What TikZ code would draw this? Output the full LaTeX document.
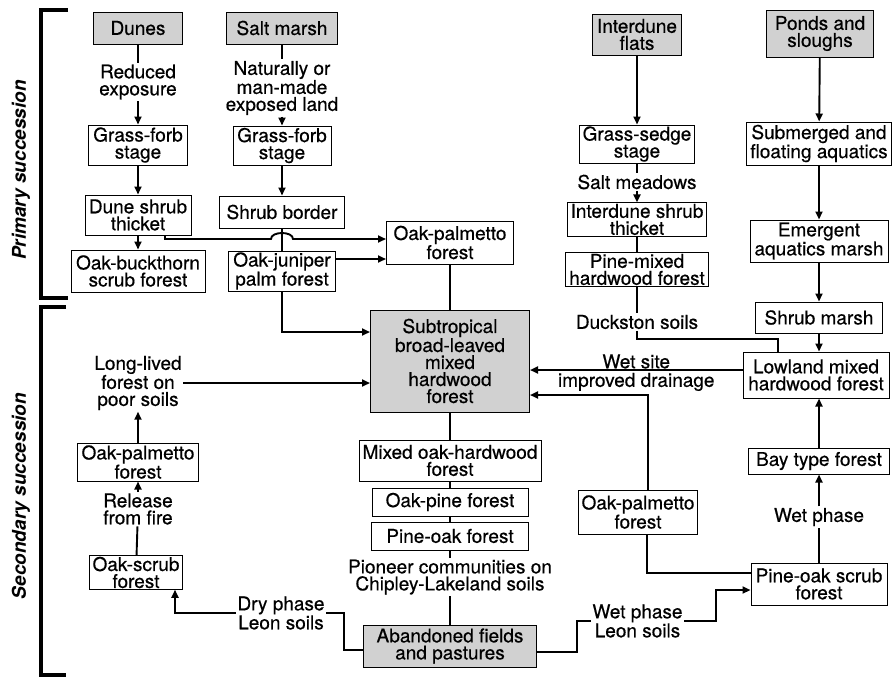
\documentclass[tikz,border=0pt]{standalone}
\usepackage{fontspec}
\setmainfont{TeX Gyre Heros}[UprightFeatures={FakeBold=0.5}]
\usetikzlibrary{arrows.meta,positioning}

\begin{document}
\begin{tikzpicture}[x=1pt, y=-1pt,
	every node/.style={font=\fontsize{19}{17}\selectfont, align=center},
	stage/.style={draw, line width=1pt, inner xsep=3.5pt, inner ysep=1pt},
	site/.style={stage, fill=black!18},
	note/.style={inner sep=1.5pt},
	link/.style={line width=1.9pt},
	arr/.style={link, -{Triangle[length=8pt,width=7pt]}},
	bracket/.style={line width=3.5pt}]
	\useasboundingbox (0,0) rectangle (893,678);

	% brackets
	\draw[bracket] (68,10) -- (41,10) -- (41,298) -- (68,298);
	\draw[bracket] (66,307) -- (41,307) -- (41,675) -- (66,675);
	\node[rotate=90, font=\fontsize{19}{17}\selectfont\bfseries\itshape] (primlab) at (21,170) {Primary succession};
	\node[rotate=90, font=\fontsize{19}{17}\selectfont\bfseries\itshape] (seclab) at (21,496) {Secondary succession};

	% primary, left
	\node[site, minimum width=89pt, minimum height=32pt] (dunes) at (138,28) {Dunes};
	\node[site, minimum width=111pt, minimum height=32pt] (saltmarsh) at (282,28) {Salt marsh};
	\node[note] (reduced) at (138,82) {Reduced\\exposure};
	\node[note] (naturally) at (282,88) {Naturally or\\man-made\\exposed land};
	\node[stage, minimum width=99pt, minimum height=40pt] (grassforbA) at (138,145) {Grass-forb\\stage};
	\node[stage, minimum width=98pt, minimum height=39pt] (grassforbB) at (282,145.5) {Grass-forb\\stage};
	\node[stage, minimum width=106pt, minimum height=40pt] (duneshrub) at (138,215) {Dune shrub\\thicket};
	\node[stage, minimum width=125pt, minimum height=32pt] (shrubborder) at (282,212) {Shrub border};
	\node[stage, minimum width=134pt, minimum height=42pt] (oakbuck) at (138,271) {Oak-buckthorn\\scrub forest};
	\node[stage, minimum width=107pt, minimum height=40pt] (oakjuniper) at (282,271) {Oak-juniper\\palm forest};
	\node[stage, minimum width=127pt, minimum height=43pt] (oakpalmA) at (450,242.5) {Oak-palmetto\\forest};
	\coordinate (hop) at (282,239);

	% primary, right
	\node[site, minimum width=89pt, minimum height=41pt] (interdune) at (637,34.5) {Interdune\\flats};
	\node[site, minimum width=107pt, minimum height=47pt] (ponds) at (820,33.5) {Ponds and\\sloughs};
	\node[stage, minimum width=114pt, minimum height=38pt] (grasssedge) at (637,144) {Grass-sedge\\stage};
	\node[note] (saltmeadows) at (637,182) {Salt meadows};
	\node[stage, minimum width=138pt] (idshrub) at (637,219.5) {Interdune shrub\\thicket};
	\node[stage, minimum width=143pt] (pinemixed) at (637,269.5) {Pine-mixed\\hardwood forest};
	\node[note] (duckston) at (637,322) {Duckston soils};
	\node[stage, minimum width=143pt, minimum height=43pt] (submerged) at (819,143.5) {Submerged and\\floating aquatics};
	\node[stage, minimum width=138pt, minimum height=42pt] (emergent) at (819,241) {Emergent\\aquatics marsh};
	\node[stage, minimum width=127pt, minimum height=31pt] (shrubmarsh) at (819,317.5) {Shrub marsh};
	\node[stage, inner xsep=1pt, minimum width=146pt, minimum height=46pt] (lowland) at (816,375) {Lowland mixed\\hardwood forest};

	% centre
	\node[site, minimum width=159pt, minimum height=102pt] (subtrop) at (450,361) {Subtropical\\broad-leaved\\mixed\\hardwood\\forest};
	\node[stage, minimum width=182pt, minimum height=41pt] (mixedoak) at (450,460.5) {Mixed oak-hardwood\\forest};
	\node[stage, minimum width=156pt, minimum height=28pt] (oakpine) at (450,502) {Oak-pine forest};
	\node[stage, minimum width=157pt, minimum height=28pt] (pineoak) at (450,536) {Pine-oak forest};
	\node[note] (pioneer) at (450,577) {Pioneer communities on\\Chipley-Lakeland soils};
	\node[site, minimum width=173pt, minimum height=42pt] (abandoned) at (450,646) {Abandoned fields\\and pastures};

	% secondary, left
	\node[note] (longlived) at (138,383) {Long-lived\\forest on\\poor soils};
	\node[stage, minimum width=121pt, minimum height=38pt] (oakpalmB) at (138,462) {Oak-palmetto\\forest};
	\node[note] (release) at (138,509) {Release\\from fire};
	\node[stage, minimum width=92pt] (oakscrub) at (136,572.5) {Oak-scrub\\forest};
	\node[note] (dryphase) at (281,613) {Dry phase\\Leon soils};

	% secondary, right
	\node[stage, minimum width=118pt, minimum height=44pt] (oakpalmC) at (638,512) {Oak-palmetto\\forest};
	\node[stage, minimum width=141pt, minimum height=26pt] (baytype) at (819,461) {Bay type forest};
	\node[note] (wetphase) at (819,517) {Wet phase};
	\node[stage, minimum width=136pt, minimum height=42pt] (pineoakscrub) at (819,584) {Pine-oak scrub\\forest};
	\node[note] (wetleon) at (637.5,621) {Wet phase\\Leon soils};

	% connectors, primary
	\draw[link] (dunes) -- (reduced);
	\draw[arr] (reduced) -- (grassforbA);
	\draw[link] (saltmarsh) -- (naturally);
	\draw[arr] (naturally) -- (grassforbB);
	\draw[arr] (grassforbA) -- (duneshrub);
	\draw[arr] (grassforbB) -- (shrubborder);
	\draw[arr] (duneshrub) -- (oakbuck);
	\draw[link] (shrubborder) -- (oakjuniper);
	\draw[arr] ([xshift=27pt]duneshrub.south) |- ([xshift=-11pt]hop)
		.. controls +(0,-8) and +(0,-8) .. ([xshift=11pt]hop) -- (hop -| oakpalmA.west);
	\draw[arr] ([yshift=12pt]oakjuniper.east) -- ([yshift=12pt]oakjuniper.east -| oakpalmA.west);
	\draw[arr] (oakjuniper.south) |- ([yshift=29pt]subtrop.west);
	\draw[link] (oakpalmA) -- (subtrop);

	\draw[arr] (interdune) -- (grasssedge);
	\draw[link] (grasssedge) -- (saltmeadows);
	\draw[arr] (saltmeadows) -- (idshrub);
	\draw[link] (idshrub) -- (pinemixed);
	\draw[link] (pinemixed) -- (duckston);
	\draw[link] (duckston.south) -- ++(0,8) -| ([xshift=-38pt]lowland.north);
	\draw[arr] (ponds) -- (submerged);
	\draw[arr] (submerged) -- (emergent);
	\draw[arr] (emergent) -- (shrubmarsh);
	\draw[arr] (shrubmarsh) -- (shrubmarsh |- lowland.north);

	% connectors, centre and secondary
	\draw[link] (subtrop) -- (mixedoak);
	\draw[link] (mixedoak) -- (oakpine);
	\draw[link] (oakpine) -- (pineoak);
	\draw[link] (pineoak) -- (pioneer);
	\draw[link] (pioneer) -- (abandoned);

	\draw[arr] (longlived.east) -- (longlived.east -| subtrop.west);
	\draw[arr] (oakpalmB) -- (longlived);
	\draw[arr] (release) -- (oakpalmB);
	\draw[link] (oakscrub) -- (release);
	\draw[arr] (dryphase.west) -| ([xshift=39pt]oakscrub.south);
	\draw[link] (dryphase.east) -- ++(18,0) |- ([yshift=-4pt]abandoned.west);

	\draw[arr] ([yshift=5pt]lowland.west) -- ([yshift=5pt]lowland.west -| subtrop.east)
		node[midway, above, note, inner sep=0.5pt] (wetsite) {Wet site}
		node[midway, below, note, inner sep=2pt] (drainage) {improved drainage};
	\draw[arr] ([xshift=10pt]oakpalmC.north) |- ([yshift=-34pt]subtrop.east);
	\draw[link] ([xshift=9pt]oakpalmC.south) |- ([yshift=11pt]pineoakscrub.west);
	\draw[link] (pineoakscrub) -- (wetphase);
	\draw[arr] (wetphase) -- (baytype);
	\draw[arr] (baytype) -- (baytype |- lowland.south);
	\draw[link] ([yshift=-6pt]abandoned.east) -| ([xshift=-14pt]wetleon.west) -- (wetleon.west);
	\draw[arr] (wetleon.east) -- ++(32,0) |- ([yshift=-6pt]pineoakscrub.west);
\end{tikzpicture}
\end{document}
